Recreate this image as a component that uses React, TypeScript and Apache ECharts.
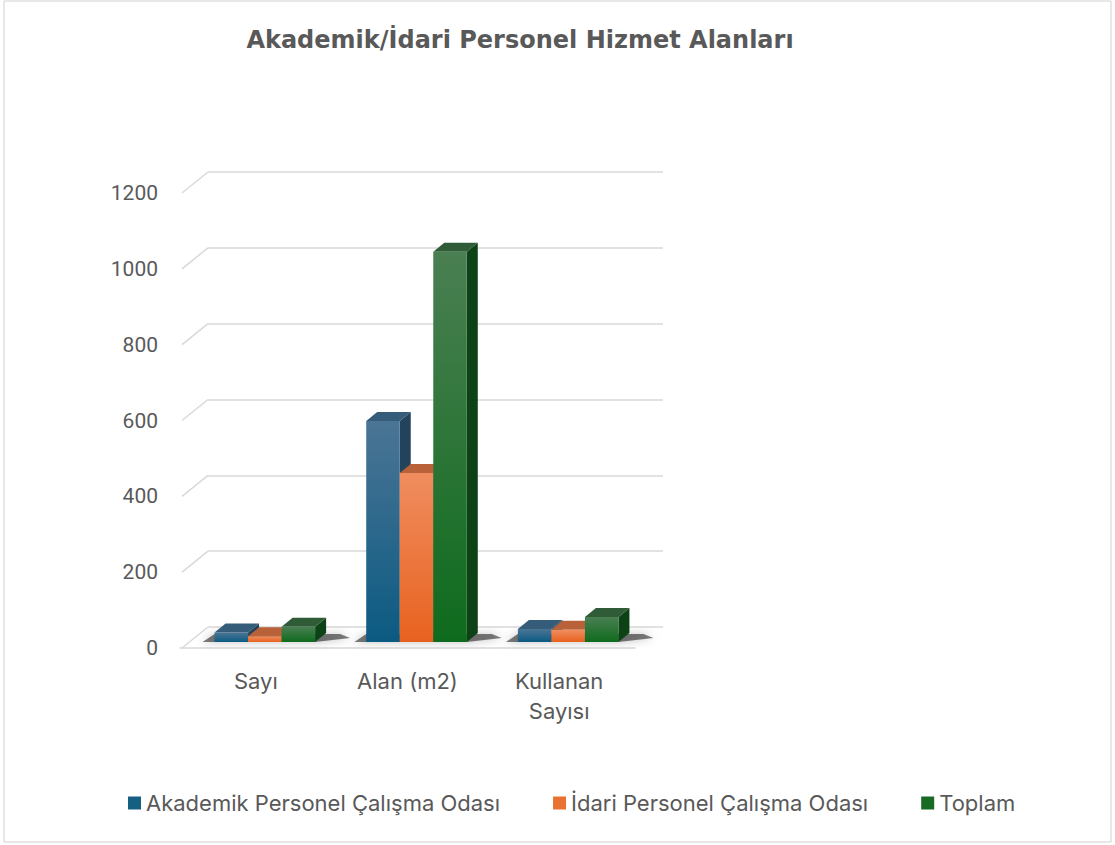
import React, { useEffect, useRef } from "react";
import * as echarts from "echarts";

const categories = ["Sayı", "Alan (m2)", "Kullanan\nSayısı"];
const seriesNames = [
  "Akademik Personel Çalışma Odası",
  "İdari Personel Çalışma Odası",
  "Toplam",
];
const akademik = [25, 583, 34];
const idari = [15, 446, 32];
const toplam = [40, 1029, 66];
const yTicks = [0, 200, 400, 600, 800, 1000, 1200];

const palette = [
  { legend: "#156082", top: "#4b7595", bottom: "#0b5a82", side: "#22435b", cap: "#355c79" },
  { legend: "#E97132", top: "#f08d5f", bottom: "#e8621f", side: "#a54b1c", cap: "#b9623a" },
  { legend: "#196B24", top: "#4a7f52", bottom: "#0e6b1d", side: "#0c4215", cap: "#2f5c36" },
];

const FONT = "Inter";
const GRID_COLOR = "#d9d9d9";
const DX = 11;
const DY = -9;
const DEPTH_X = 28;
const DEPTH_Y = -21;

function makeBarSeries(name: string, values: number[], idx: number) {
  const c = palette[idx];
  return {
    type: "custom",
    name,
    xAxisIndex: 0,
    yAxisIndex: 0,
    itemStyle: { color: c.legend },
    data: values.map((v, i) => [i, v]),
    z: 10,
    renderItem: (params: any, api: any) => {
      const ci = api.value(0);
      const v = api.value(1);
      const base = api.coord([ci, 0]);
      const topP = api.coord([ci, v]);
      const band = api.size([1, 0])[0];
      const barW = band * 0.221;
      const x0 = base[0] - 1.5 * barW + idx * barW + 9;
      const yb = base[1] - 6;
      const yt = topP[1] - 6;
      const x1 = x0 + barW;
      const children: any[] = [];
      if (idx === 0) {
        children.push({
          type: "polygon",
          shape: { points: [[x0 - 12, yb], [x0, yb - 8], [x0 + 3 * barW + DX + 14, yb - 8], [x0 + 3 * barW + DX + 24, yb - 4], [x0 + 3 * barW, yb]] },
          style: { fill: "rgba(0,0,0,0.5)", shadowBlur: 8, shadowColor: "rgba(0,0,0,0.5)" },
          z2: 0,
        });
      }
      children.push({
        type: "polygon",
        shape: { points: [[x1, yt], [x1 + DX, yt + DY], [x1 + DX, yb + DY], [x1, yb]] },
        style: { fill: c.side },
        z2: 1,
      });
      children.push({
        type: "polygon",
        shape: { points: [[x0, yt], [x0 + DX, yt + DY], [x1 + DX, yt + DY], [x1, yt]] },
        style: { fill: c.cap },
        z2: 2,
      });
      children.push({
        type: "rect",
        shape: { x: x0, y: yt, width: barW, height: yb - yt },
        style: {
          fill: new echarts.graphic.LinearGradient(0, 0, 0, 1, [
            { offset: 0, color: c.top },
            { offset: 1, color: c.bottom },
          ]),
        },
        z2: 3,
      });
      return { type: "group", children };
    },
  };
}

export default function App() {
  const ref = useRef<HTMLDivElement>(null);
  useEffect(() => {
    if (!ref.current) return;
    const chart = echarts.init(ref.current, undefined, { renderer: "svg" });
    const option: any = {
      animation: false,
      backgroundColor: "#ffffff",
      title: {
        text: "Akademik/İdari Personel Hizmet Alanları",
        left: 515,
        top: 23,
        textAlign: "center",
        textStyle: { fontFamily: "DejaVu Sans", fontWeight: "bold", fontSize: 24, color: "#595959" },
      },
      legend: {
        bottom: 26,
        left: 123,
        itemWidth: 13,
        itemHeight: 13,
        itemGap: 53,
        icon: "rect",
        textStyle: { fontFamily: FONT, fontSize: 22, color: "#595959" },
        data: seriesNames,
      },
      grid: [
        { left: 180, right: 480, top: 193, bottom: 197 },
        { left: 180 + DEPTH_X, right: 480 - DEPTH_X, top: 193 + DEPTH_Y, bottom: 197 - DEPTH_Y },
      ],
      xAxis: [
        {
          type: "category",
          gridIndex: 0,
          data: categories,
          axisLine: { show: true, lineStyle: { color: GRID_COLOR, width: 1.5 } },
          axisTick: { show: false },
          axisLabel: { fontFamily: FONT, fontSize: 22, color: "#595959", margin: 18, lineHeight: 30 },
        },
        { type: "category", gridIndex: 1, data: categories, show: false },
      ],
      yAxis: [
        {
          type: "value",
          gridIndex: 0,
          min: 0,
          max: 1200,
          interval: 200,
          axisLine: { show: false },
          axisTick: { show: false },
          splitLine: { show: false },
          axisLabel: {
            fontFamily: "Roboto",
            fontSize: 21,
            color: "#595959",
            margin: 22,
            formatter: (v: number) => String(v),
          },
        },
        {
          type: "value",
          gridIndex: 1,
          min: 0,
          max: 1200,
          interval: 200,
          axisLine: { show: false },
          axisTick: { show: false },
          axisLabel: { show: false },
          splitLine: { show: true, lineStyle: { color: GRID_COLOR, width: 1.5 } },
        },
      ],
      graphic: [
        {
          type: "rect",
          shape: { x: 4, y: 1, width: 1107, height: 841 },
          style: { fill: "none", stroke: "#d0d0d0", lineWidth: 1 },
          silent: true,
        },
      ],
      series: [
        {
          type: "custom",
          name: "grid-depth",
          xAxisIndex: 0,
          yAxisIndex: 0,
          silent: true,
          data: yTicks.map((t) => [0, t]),
          z: 1,
          renderItem: (params: any, api: any) => {
            const p = api.coord([0, api.value(1)]);
            const band = api.size([1, 0])[0];
            const xl = p[0] - band / 2;
            return {
              type: "line",
              shape: { x1: xl + 2, y1: p[1], x2: xl + DEPTH_X, y2: p[1] + DEPTH_Y },
              style: { stroke: GRID_COLOR, lineWidth: 1.5 },
            };
          },
        },
        makeBarSeries(seriesNames[0], akademik, 0),
        makeBarSeries(seriesNames[1], idari, 1),
        makeBarSeries(seriesNames[2], toplam, 2),
      ],
    };
    chart.setOption(option);
    return () => chart.dispose();
  }, []);
  return (
    <div
      ref={ref}
      style={{ position: "absolute", left: 0, top: 0, width: 1115, height: 845 }}
    />
  );
}
